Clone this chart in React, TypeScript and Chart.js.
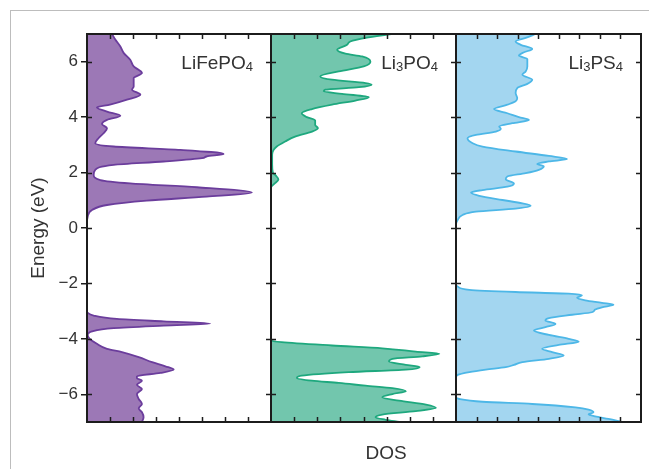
import React, { useEffect, useRef } from "react";
import { Chart, registerables } from "chart.js";

Chart.register(...registerables);
Chart.defaults.font.family = '"Liberation Sans", Arial, Helvetica, sans-serif';

// ---------- data ----------
const energyTicks = [-6, -4, -2, 0, 2, 4, 6];

const lfpEnergy = [7.0, 6.8, 6.55, 6.31, 6.07, 5.83, 5.59, 5.41, 5.11, 4.99, 4.81, 4.63, 4.45, 4.35, 4.2, 4.05, 3.9, 3.75, 3.6, 3.42, 3.24, 3.06, 2.94, 2.82, 2.67, 2.58, 2.52, 2.4, 2.28, 2.1, 1.92, 1.73, 1.61, 1.47, 1.28, 1.13, 0.99, 0.83, 0.65, 0.41, 0.17, 0.0, -3.0, -3.06, -3.16, -3.28, -3.37, -3.45, -3.52, -3.61, -3.73, -3.86, -4.0, -4.18, -4.36, -4.48, -4.66, -4.84, -4.99, -5.11, -5.23, -5.35, -5.42, -5.51, -5.66, -5.81, -5.99, -6.17, -6.35, -6.51, -6.65, -6.83, -7.0];
const lfpDos = [1.09, 1.23, 1.45, 1.6, 1.88, 2.03, 2.39, 2.03, 2.03, 1.96, 2.32, 1.74, 1.0, 0.43, 0.87, 1.45, 0.87, 0.65, 0.87, 0.72, 0.5, 0.36, 1.16, 4.06, 5.94, 5.2, 5.0, 3.33, 1.16, 0.36, 0.29, 0.58, 1.88, 4.78, 7.17, 5.2, 2.6, 0.87, 0.22, 0.03, 0, 0, 0, 0.03, 0.29, 1.3, 3.33, 5.36, 3.33, 1.16, 0.22, 0.03, 0.12, 0.43, 0.87, 1.52, 2.25, 2.83, 3.41, 3.77, 3.19, 2.17, 2.17, 2.39, 2.17, 2.39, 2.17, 2.25, 2.39, 2.25, 2.39, 2.46, 2.39];

const lpoEnergy = [7.0, 6.86, 6.73, 6.61, 6.43, 6.29, 6.19, 6.0, 5.83, 5.65, 5.47, 5.35, 5.23, 5.17, 5.08, 4.99, 4.93, 4.84, 4.72, 4.6, 4.45, 4.29, 4.14, 4.0, 3.88, 3.72, 3.6, 3.48, 3.3, 3.12, 2.94, 2.8, 2.64, 2.3, 2.0, 1.9, 1.75, 1.6, 1.45, 1.3, -4.06, -4.12, -4.24, -4.34, -4.46, -4.54, -4.63, -4.72, -4.82, -4.94, -5.02, -5.11, -5.2, -5.33, -5.41, -5.51, -5.59, -5.69, -5.78, -5.89, -5.99, -6.11, -6.23, -6.37, -6.49, -6.61, -6.73, -6.83, -6.92, -7.0];
const lpoDos = [5.2, 4.09, 3.43, 3.29, 2.86, 3.22, 3.94, 4.3, 4.01, 2.93, 2.13, 2.64, 4.09, 4.35, 3.8, 2.35, 2.28, 3.07, 4.23, 3.65, 2.64, 1.77, 1.33, 1.55, 1.91, 1.91, 2.03, 1.77, 1.04, 0.61, 0.25, 0.1, 0.05, 0.05, 0.08, 0.2, 0.32, 0.15, 0, 0, 0, 0.46, 2.64, 4.81, 6.26, 7.28, 6.55, 5.25, 5.1, 5.83, 6.43, 5.83, 3.36, 1.33, 1.12, 1.77, 2.93, 4.09, 5.25, 5.83, 5.25, 4.81, 5.54, 6.7, 7.13, 6.26, 4.81, 4.52, 4.96, 5.54];

const lpsEnergy = [7.0, 6.86, 6.73, 6.61, 6.46, 6.34, 6.22, 6.1, 5.98, 5.83, 5.65, 5.53, 5.35, 5.2, 5.05, 4.87, 4.69, 4.57, 4.45, 4.29, 4.14, 4.0, 3.9, 3.78, 3.66, 3.58, 3.48, 3.36, 3.24, 3.06, 2.94, 2.76, 2.6, 2.49, 2.4, 2.31, 2.22, 2.1, 1.98, 1.86, 1.76, 1.61, 1.49, 1.37, 1.28, 1.16, 1.01, 0.89, 0.8, 0.7, 0.59, 0.47, 0.29, 0.11, 0.0, -2.07, -2.11, -2.23, -2.31, -2.37, -2.43, -2.52, -2.61, -2.7, -2.77, -2.86, -2.94, -3.04, -3.13, -3.25, -3.34, -3.46, -3.58, -3.7, -3.86, -4.0, -4.1, -4.22, -4.36, -4.48, -4.6, -4.72, -4.84, -4.94, -5.02, -5.11, -5.2, -5.3, -5.39, -6.11, -6.17, -6.27, -6.35, -6.47, -6.55, -6.65, -6.72, -6.8, -6.89, -7.0];
const lpsDos = [3.87, 3.39, 2.9, 3.15, 3.71, 3.31, 3.06, 3.47, 3.47, 3.47, 3.39, 3.23, 3.71, 3.47, 2.98, 2.9, 2.98, 2.9, 2.5, 1.85, 2.5, 3.06, 3.55, 2.74, 2.1, 2.18, 1.94, 0.97, 0.56, 0.81, 1.29, 2.9, 4.52, 5.4, 4.52, 3.95, 4.27, 4.03, 3.39, 2.5, 2.42, 2.82, 2.5, 1.29, 0.73, 1.13, 2.26, 3.23, 3.63, 2.9, 0.97, 0.32, 0.08, 0, 0, 0, 0.08, 0.65, 2.9, 5.48, 6.13, 5.89, 6.29, 7.1, 7.66, 7.1, 6.77, 6.61, 5.65, 4.52, 4.35, 4.84, 4.35, 3.79, 4.52, 5.48, 5.97, 5.0, 4.19, 4.68, 5.24, 4.52, 3.23, 2.82, 2.42, 1.45, 0.65, 0.08, 0, 0, 0.16, 1.29, 3.71, 5.81, 6.45, 6.69, 6.45, 6.77, 7.42, 8.06];

// label pieces: [text, isSubscript]
const lfpLabel: [string, boolean][] = [["LiFePO", false], ["4", true]];
const lpoLabel: [string, boolean][] = [["Li", false], ["3", true], ["PO", false], ["4", true]];
const lpsLabel: [string, boolean][] = [["Li", false], ["3", true], ["PS", false], ["4", true]];

const dosMax = [8, 8, 9];
const axisTitle = "Energy (eV)";
const xTitle = "DOS";

// ---------- styling ----------
const FONT = '"Liberation Sans", Arial, Helvetica, sans-serif';
const INK = "#1c1c1c";
const TEXT = "#333333";

const panelDefs = [
  { energy: lfpEnergy, dos: lfpDos, label: lfpLabel, max: dosMax[0], fill: "#9c78b6", line: "#6b3d9c", canvasLeft: 0, width: 280, pad: { left: 16, top: 34, right: 9, bottom: 47 }, showY: true },
  { energy: lpoEnergy, dos: lpoDos, label: lpoLabel, max: dosMax[1], fill: "#72c6ad", line: "#1ea87e", canvasLeft: 262, width: 203, pad: { left: 9, top: 34, right: 9, bottom: 47 }, showY: false },
  { energy: lpsEnergy, dos: lpsDos, label: lpsLabel, max: dosMax[2], fill: "#a3d6f0", line: "#4db7e7", canvasLeft: 447, width: 202, pad: { left: 9, top: 34, right: 8, bottom: 47 }, showY: false },
];

const framePlugin = {
  id: "frameTicks",
  afterDatasetsDraw(chart: any, _args: any, opts: any) {
    const { ctx, chartArea } = chart;
    const { left, right, top, bottom } = chartArea;
    const x = chart.scales.x;
    const y = chart.scales.y;
    ctx.save();
    ctx.strokeStyle = INK;
    ctx.lineWidth = 1.5;
    ctx.beginPath();
    for (const v of energyTicks) {
      const py = Math.round(y.getPixelForValue(v)) + 0.5;
      ctx.moveTo(left, py);
      ctx.lineTo(left + 5, py);
      ctx.moveTo(right, py);
      ctx.lineTo(right - 5, py);
    }
    for (let v = x.min + 1; v < x.max; v++) {
      const px = Math.round(x.getPixelForValue(v)) + 0.5;
      ctx.moveTo(px, bottom);
      ctx.lineTo(px, bottom - 5);
      ctx.moveTo(px, top);
      ctx.lineTo(px, top + 5);
    }
    ctx.stroke();
    ctx.lineWidth = 2;
    ctx.strokeRect(left, top, right - left, bottom - top);

    // panel label with subscripts
    const pieces: [string, boolean][] = opts.label || [];
    const mainFont = `19px ${FONT}`;
    const subFont = `13px ${FONT}`;
    let total = 0;
    for (const [t, sub] of pieces) {
      ctx.font = sub ? subFont : mainFont;
      total += ctx.measureText(t).width;
    }
    let cx = right - 18 - total;
    const base = y.getPixelForValue(6) + 7;
    ctx.fillStyle = TEXT;
    ctx.textBaseline = "alphabetic";
    ctx.textAlign = "left";
    for (const [t, sub] of pieces) {
      ctx.font = sub ? subFont : mainFont;
      ctx.fillText(t, cx, sub ? base + 2 : base);
      cx += ctx.measureText(t).width;
    }
    ctx.restore();
  },
};

export default function App() {
  const refs = [useRef<HTMLCanvasElement>(null), useRef<HTMLCanvasElement>(null), useRef<HTMLCanvasElement>(null)];

  useEffect(() => {
    const charts: Chart[] = [];
    panelDefs.forEach((p, i) => {
      const canvas = refs[i].current;
      if (!canvas) return;
      const points = p.energy.map((e, k) => ({ x: p.dos[k], y: e }));
      const chart = new Chart(canvas, {
        type: "line",
        data: {
          datasets: [
            {
              data: points as any,
              borderColor: p.line,
              backgroundColor: p.fill,
              borderWidth: 1.8,
              pointRadius: 0,
              fill: "origin",
              cubicInterpolationMode: "monotone",
            } as any,
          ],
        },
        plugins: [framePlugin],
        options: {
          indexAxis: "y",
          responsive: false,
          maintainAspectRatio: false,
          devicePixelRatio: 1,
          animation: false,
          events: [],
          layout: { padding: p.pad },
          scales: {
            x: {
              type: "linear",
              min: 0,
              max: p.max,
              display: false,
              ticks: { stepSize: 1 },
            },
            y: {
              type: "linear",
              min: -7,
              max: 7,
              display: p.showY,
              afterBuildTicks: (scale: any) => {
                scale.ticks = energyTicks.map((v) => ({ value: v }));
              },
              afterFit: (scale: any) => {
                scale.width = p.showY ? 87 - p.pad.left : 0;
              },
              ticks: {
                color: TEXT,
                font: { size: 17, family: FONT },
                padding: 3,
                callback: (v: any) => (Number(v) < 0 ? "\u2212" + Math.abs(Number(v)) : String(v)),
              },
              grid: {
                display: true,
                drawOnChartArea: false,
                drawTicks: true,
                tickLength: 6,
                color: INK,
                lineWidth: 1.5,
              },
              border: { display: true, color: INK, width: 2 },
              title: {
                display: true,
                text: axisTitle,
                color: TEXT,
                font: { size: 19, family: FONT },
                padding: { top: 11.6, bottom: 0 },
              },
            },
          },
          plugins: {
            legend: { display: false },
            tooltip: { enabled: false },
            frameTicks: { label: p.label },
          } as any,
        },
      });
      charts.push(chart);
    });
    return () => charts.forEach((c) => c.destroy());
  }, []);

  return (
    <div style={{ position: "absolute", left: 0, top: 0, width: 649, height: 469, overflow: "hidden", background: "#fff" }}>
      <div style={{ position: "absolute", left: 10, top: 10, width: 700, height: 520, border: "1.5px solid #bdbdbd" }} />
      {panelDefs.map((p, i) => (
        <canvas
          key={i}
          ref={refs[i]}
          width={p.width}
          height={469}
          style={{ position: "absolute", left: p.canvasLeft, top: 0, width: p.width, height: 469, display: "block" }}
        />
      ))}
      <div
        style={{
          position: "absolute",
          left: 386,
          top: 442,
          transform: "translateX(-50%)",
          fontFamily: FONT,
          fontSize: 19,
          color: TEXT,
          whiteSpace: "nowrap",
        }}
      >
        {xTitle}
      </div>
    </div>
  );
}
